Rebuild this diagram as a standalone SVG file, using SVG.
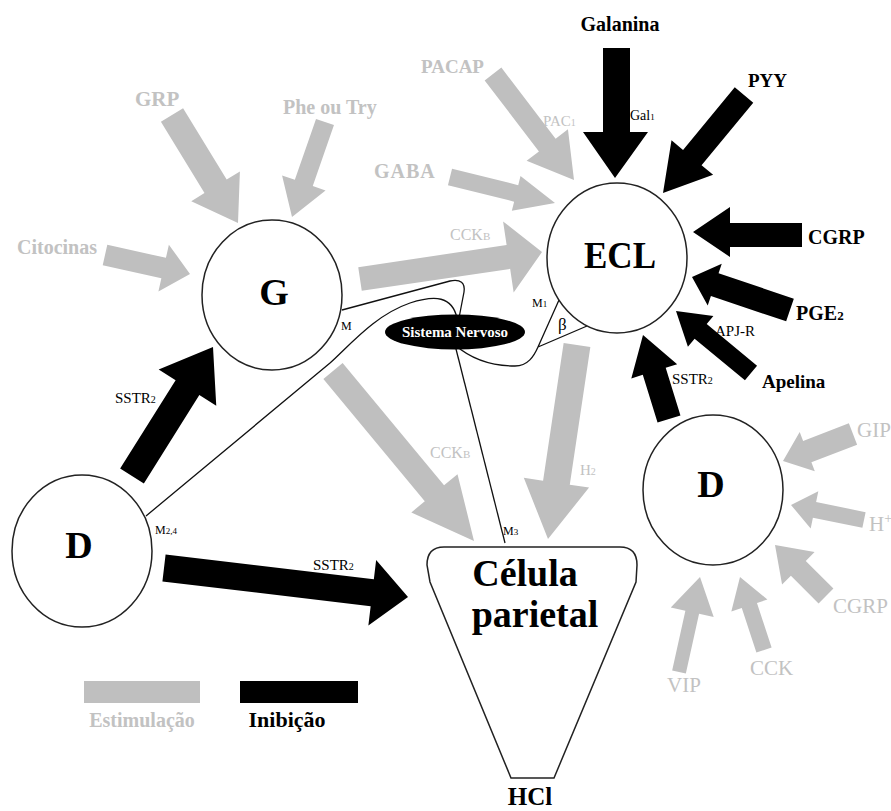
<svg xmlns="http://www.w3.org/2000/svg" width="891" height="811" viewBox="0 0 891 811">
<style>
.st{fill:#bfbfbf}
.ih{fill:#000}
.cell{fill:#fff;stroke:#222;stroke-width:1.5}
.nerve{fill:none;stroke:#111;stroke-width:1.3}
text{font-family:"Liberation Serif","Times New Roman",serif}
.gl{fill:#c2c2c2}
.kl{fill:#000}
.b{font-weight:bold}
.sm{font-size:15px}
.big{font-size:38px;font-weight:bold;fill:#000}
</style>
<rect width="891" height="811" fill="#fff"/>
<g id="connectors">
  <!-- stimulation arrows (grey) -->
  <polygon class="st" points="160.91,121.78 204.49,193.09 191.26,201.17 238,223 239.90,171.45 226.67,179.53 183.09,108.22"/>
  <polygon class="st" points="316.03,118.88 294.84,179.87 282.08,175.44 292,217 325.54,190.54 312.78,186.11 333.97,125.12"/>
  <polygon class="st" points="102.71,265.25 161.36,278.36 158.42,291.53 190,274 168.88,244.69 165.94,257.86 107.29,244.75"/>
  <polygon class="st" points="484.66,80.38 538.94,151.42 526.62,160.83 574,180 567.94,129.25 555.62,138.66 501.34,67.62"/>
  <polygon class="st" points="447.96,185.25 514.13,201.63 511.84,210.85 555,203 520.50,175.91 518.21,185.13 452.04,168.75"/>
  <polygon class="st" points="361.76,290.87 510.13,268.86 513.65,292.60 542,252 503.09,221.38 506.61,245.12 358.24,267.13"/>
  <polygon class="st" points="323.38,378.98 424.80,501.26 411.33,512.43 474,541 457.51,474.13 444.04,485.30 342.62,363.02"/>
  <polygon class="st" points="563.65,343.00 543.08,480.63 523.79,477.75 548,539 589.07,487.51 569.78,484.63 590.35,347.00"/>
  <polygon class="st" points="848.86,423.27 803.12,440.91 799.70,432.05 783,461 814.82,471.23 811.40,462.37 857.14,444.73"/>
  <polygon class="st" points="865.61,512.16 816.12,501.99 818.33,491.22 791,505 810.69,528.44 812.90,517.67 862.39,527.84"/>
  <polygon class="st" points="833.42,588.58 805.75,560.91 814.59,552.07 775,545 782.07,584.59 790.91,575.75 818.58,603.42"/>
  <polygon class="st" points="771.60,647.50 756.97,603.00 767.42,599.57 740,577 731.32,611.43 741.77,608.00 756.40,652.50"/>
  <polygon class="st" points="685.84,673.51 699.07,613.66 713.71,616.90 700,577 670.75,607.40 685.39,610.64 672.16,670.49"/>
  <!-- inhibition arrows (black) -->
  <polygon class="ih" points="603,48 603,132 583,132 615,178 648,132 630,132 630,48"/>
  <polygon class="ih" points="734.75,87.35 683.06,149.89 671.50,140.34 663,193 713.12,174.74 701.56,165.19 753.25,102.65"/>
  <polygon class="ih" points="802,223 730,223 730,207 693,232 730,257 730,247 802,247"/>
  <polygon class="ih" points="793.83,298.63 718.57,273.29 721.76,263.81 692,277 707.72,305.51 710.91,296.03 786.17,321.37"/>
  <polygon class="ih" points="757.05,365.68 706.71,324.07 713.40,315.98 676,311 687.92,346.80 694.61,338.71 744.95,380.32"/>
  <polygon class="ih" points="680.46,415.45 665.70,367.75 677.17,364.20 643,335 631.31,378.40 642.78,374.85 657.54,422.55"/>
  <polygon class="ih" points="143.86,483.45 199.33,395.10 216.26,405.73 213,347 158.68,369.57 175.61,380.20 120.14,468.55"/>
  <polygon class="ih" points="162.41,581.41 370.66,606.16 368.36,625.52 408,597 376.14,559.98 373.84,579.34 165.59,554.59"/>
  <!-- nerve connections -->
  <path class="nerve" d="M342,310 L450,281 Q466,278 464,292 L459,318"/>
  <path class="nerve" d="M146,516 L330,363 C350,345 375,315 410,303 C435,295 452,296 457,318"/>
  <path class="nerve" d="M455,345 L505,543"/>
  <path class="nerve" d="M455,345 C470,358 490,366 515,366 C528,366 534,356 538,347 L559,300 M538,347 L587,326"/>
  <!-- arrow labels -->
  <text class="gl b" x="135" y="106" font-size="21">GRP</text>
  <text class="gl b" x="283" y="114" font-size="20">Phe ou Try</text>
  <text class="gl b" x="17" y="254" font-size="20">Citocinas</text>
  <text class="gl b" x="374" y="178" font-size="20" letter-spacing="1">GABA</text>
  <text class="gl b" x="421" y="73" font-size="19">PACAP</text>
  <text class="gl" x="543" y="126" font-size="15">PAC<tspan font-size="10">1</tspan></text>
  <text class="gl" x="450" y="240" font-size="16">CCK<tspan font-size="11">B</tspan></text>
  <text class="gl" x="430" y="458" font-size="16">CCK<tspan font-size="11">B</tspan></text>
  <text class="gl" x="580" y="475" font-size="15">H<tspan font-size="10">2</tspan></text>
  <text class="gl" x="857" y="437" font-size="21">GIP</text>
  <text class="gl" x="869" y="531" font-size="21">H<tspan font-size="14" dy="-8">+</tspan></text>
  <text class="gl" x="833" y="613" font-size="21">CGRP</text>
  <text class="gl" x="750" y="675" font-size="21">CCK</text>
  <text class="gl" x="667" y="692" font-size="21">VIP</text>
  <text class="kl b" x="620" y="31" font-size="20" text-anchor="middle">Galanina</text>
  <text class="kl" x="630" y="120" font-size="14">Gal<tspan font-size="9">1</tspan></text>
  <text class="kl b" x="748" y="87" font-size="19">PYY</text>
  <text class="kl b" x="808" y="244" font-size="20">CGRP</text>
  <text class="kl b" x="796" y="320" font-size="20">PGE<tspan font-size="13">2</tspan></text>
  <text class="kl" x="715" y="336" font-size="15">APJ-R</text>
  <text class="kl b" x="762" y="388" font-size="19">Apelina</text>
  <text class="kl sm" x="672" y="384">SSTR<tspan font-size="10">2</tspan></text>
  <text class="kl sm" x="115" y="403">SSTR<tspan font-size="10">2</tspan></text>
  <text class="kl sm" x="313" y="570">SSTR<tspan font-size="10">2</tspan></text>
  <text class="kl" x="341" y="330" font-size="12">M</text>
  <text class="kl" x="155" y="534" font-size="12">M<tspan font-size="9">2,4</tspan></text>
  <text class="kl" x="532" y="307" font-size="12">M<tspan font-size="9">1</tspan></text>
  <text class="kl" x="503" y="535" font-size="12">M<tspan font-size="9">3</tspan></text>
  <text class="kl" x="558" y="330" font-size="17">β</text>
</g>
<g id="node-G">
  <ellipse class="cell" cx="272" cy="295" rx="70" ry="75"/>
  <text class="big" x="274" y="305" text-anchor="middle" font-size="40">G</text>
</g>
<g id="node-ECL">
  <ellipse class="cell" cx="617" cy="258" rx="70" ry="75"/>
  <text class="big" x="620" y="268" text-anchor="middle" font-size="42" textLength="72" lengthAdjust="spacingAndGlyphs">ECL</text>
</g>
<g id="node-D-left">
  <ellipse class="cell" cx="82" cy="551" rx="70" ry="76"/>
  <text class="big" x="79" y="558" text-anchor="middle">D</text>
</g>
<g id="node-D-right">
  <ellipse class="cell" cx="713" cy="490" rx="70" ry="75"/>
  <text class="big" x="711" y="497" text-anchor="middle">D</text>
</g>
<g id="node-celula">
  <path class="cell" d="M444,547 L620,547 Q637,547 637,565 L636,582 L554,778 L511,778 L430,582 L427,565 Q427,547 444,547 Z"/>
  <text class="big" x="525" y="586" text-anchor="middle">Célula</text>
  <text class="big" x="535" y="627" text-anchor="middle">parietal</text>
  <text class="kl b" x="530" y="805" text-anchor="middle" font-size="25">HCl</text>
</g>
<g id="node-sistema-nervoso">
  <ellipse cx="455" cy="332" rx="70" ry="17.5" fill="#000"/>
  <text x="455" y="337" text-anchor="middle" font-size="15" font-weight="bold" fill="#fff">Sistema Nervoso</text>
</g>
<g id="legend">
  <rect x="84" y="681" width="116" height="22" class="st"/>
  <rect x="240" y="681" width="118" height="22" class="ih"/>
  <text class="gl b" x="142" y="727" font-size="20" text-anchor="middle">Estimulação</text>
  <text class="kl b" x="287" y="727" font-size="22" text-anchor="middle">Inibição</text>
</g>
</svg>
